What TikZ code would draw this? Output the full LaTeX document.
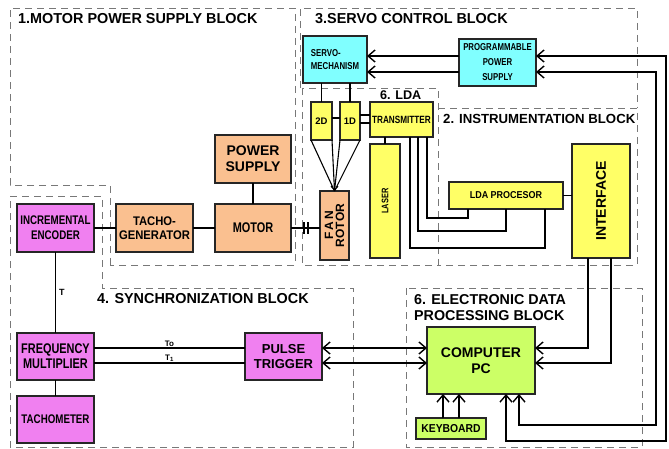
\documentclass[tikz,border=0pt]{standalone}
\usepackage{fontspec}
\setmainfont{Liberation Sans}
\newfontfamily\narrowf[FakeStretch=0.78]{Liberation Sans}
\newfontfamily\semif[FakeStretch=0.9]{Liberation Sans}
\usetikzlibrary{arrows.meta,calc}
\definecolor{cyanbox}{RGB}{128,255,255}
\definecolor{yelbox}{RGB}{255,255,102}
\definecolor{orabox}{RGB}{250,192,144}
\definecolor{pinkbox}{RGB}{240,128,240}
\definecolor{grnbox}{RGB}{204,255,102}
\definecolor{dashgray}{RGB}{120,120,120}
\newcommand\fz[2]{\fontsize{#1}{#2}\selectfont}
\tikzset{
  box/.style={draw=black!85, line width=1.3pt, inner sep=0pt, outer sep=0pt, align=center},
  conn/.style={line width=1.4pt},
  thinconn/.style={line width=1.1pt},
  hb/.tip={Straight Barb[length=7pt,width=12pt]},
  blockline/.style={draw=dashgray, line width=0.8pt, dash pattern=on 7pt off 5pt},
  title/.style={font=\bfseries\fz{14.4}{16}, anchor=west, inner sep=0pt},
  lbl/.style={inner sep=0pt, font=\bfseries\fz{8}{9}}
}
\begin{document}
\begin{tikzpicture}[x=1pt,y=-1pt]
\useasboundingbox (0,0) rectangle (669,449);
% dashed blocks
\draw[blockline] (110,265) -- (110,185) -- (10,185) -- (10,8) -- (295,8) -- (295,265) -- cycle;
\draw[blockline] (300,88) -- (300,8) -- (637,8) -- (637,108);
\draw[blockline] (302,88) rectangle (438,265);
\draw[blockline] (438,108) -- (637,108) -- (637,265) -- (438,265);
\draw[blockline] (10,196) -- (102,196) -- (102,288) -- (353,288) -- (353,447) -- (10,447) -- cycle;
\draw[blockline] (406,288) rectangle (642,447);
% titles
\node[title] (t1) at (18,19) {1.MOTOR POWER SUPPLY BLOCK};
\node[title] (t3) at (315,19) {3.SERVO CONTROL BLOCK};
\node[title, font=\bfseries\fz{12.6}{14}] (t5) at (380,95) {6. LDA};
\node[title, font=\bfseries\fz{13.2}{15}] (t2) at (443,119) {2. INSTRUMENTATION BLOCK};
\node[title] (t4) at (97,299) {4. SYNCHRONIZATION BLOCK};
\node[title, align=left, font=\bfseries\fz{14.3}{16}] (t6) at (414,308) {6. ELECTRONIC DATA\\PROCESSING BLOCK};
% nodes
\node[box, fill=cyanbox, minimum width=64pt, minimum height=47pt, align=left, font=\narrowf\bfseries\fz{10}{13}] (servo) at (335,59.5) {SERVO-\\MECHANISM};
\node[box, fill=cyanbox, minimum width=77pt, minimum height=47pt, font=\narrowf\bfseries\fz{10}{15}] (pps) at (497.5,62.5) {PROGRAMMABLE\\POWER\\SUPPLY};
\node[box, fill=yelbox, minimum width=21pt, minimum height=38pt, font=\bfseries\fz{9.5}{10}] (d2) at (321.5,121) {2D};
\node[box, fill=yelbox, minimum width=20pt, minimum height=38pt, font=\bfseries\fz{9.5}{10}] (d1) at (350,121) {1D};
\node[box, fill=yelbox, minimum width=63pt, minimum height=35pt, font=\narrowf\bfseries\fz{10.5}{12}] (trans) at (401.5,119.5) {TRANSMITTER};
\node[box, fill=orabox, minimum width=29pt, minimum height=69pt] (fan) at (334.5,225.5) {};
\node[rotate=90, inner sep=0pt, align=center, font=\bfseries\fz{12}{11}] (fantext) at (fan.center) {F\,A\,N\\ROTOR};
\node[box, fill=yelbox, minimum width=30pt, minimum height=114pt] (laser) at (385,201) {};
\node[rotate=90, inner sep=0pt, font=\narrowf\bfseries\fz{9.5}{10}] (lasertext) at (laser.center) {LASER};
\node[box, fill=yelbox, minimum width=114pt, minimum height=27pt, font=\semif\bfseries\fz{10}{12}] (ldap) at (506,195.5) {LDA PROCESOR};
\node[box, fill=yelbox, minimum width=58pt, minimum height=114pt] (iface) at (601,201) {};
\node[rotate=90, inner sep=0pt, font=\bfseries\fz{14}{16}] (ifacetext) at (iface.center) {INTERFACE};
\node[box, fill=grnbox, minimum width=108pt, minimum height=67pt, font=\bfseries\fz{14}{16}] (comp) at (481,360.5) {COMPUTER\\PC};
\node[box, fill=grnbox, minimum width=70pt, minimum height=21pt, font=\semif\bfseries\fz{11.5}{12}] (kbd) at (451,428.5) {KEYBOARD};
\node[box, fill=pinkbox, minimum width=77pt, minimum height=47pt, font=\bfseries\fz{13}{15}] (pulse) at (283.5,356.5) {PULSE\\TRIGGER};
\node[box, fill=pinkbox, minimum width=77pt, minimum height=47pt, font=\narrowf\bfseries\fz{14}{15}] (freq) at (55.5,356.5) {FREQUENCY\\MULTIPLIER};
\node[box, fill=pinkbox, minimum width=77pt, minimum height=47pt, font=\narrowf\bfseries\fz{12.5}{15}] (tacho) at (55.5,419.5) {TACHOMETER};
\node[box, fill=pinkbox, minimum width=77pt, minimum height=48pt, font=\narrowf\bfseries\fz{12.5}{15}] (enc) at (55.5,228) {INCREMENTAL\\ENCODER};
\node[box, fill=orabox, minimum width=77pt, minimum height=48pt, font=\semif\bfseries\fz{12.5}{14.5}] (tgen) at (154.5,228) {TACHO-\\GENERATOR};
\node[box, fill=orabox, minimum width=76pt, minimum height=48pt, font=\narrowf\bfseries\fz{14}{16}] (motor) at (253,228) {MOTOR};
\node[box, fill=orabox, minimum width=76pt, minimum height=48pt, font=\bfseries\fz{14}{16}] (psu) at (253,159) {POWER\\SUPPLY};
% helper coordinates
\coordinate (yA) at (0,348);
\coordinate (yB) at (0,363);
\coordinate (yT1) at (0,56);
\coordinate (yT2) at (0,72);
\coordinate (yD) at (0,118);
\coordinate (yE1) at (0,115);
\coordinate (yE2) at (0,123);
\coordinate (xO) at (506,0);
\coordinate (xI) at (519,0);
\coordinate (rOut) at (666,0);
\coordinate (rIn) at (656,0);
\coordinate (yL1) at (0,441);
\coordinate (yL2) at (0,425);
\coordinate (xK1) at (443,0);
\coordinate (xK2) at (459,0);
\coordinate (xF1) at (588,0);
\coordinate (xF2) at (611,0);
\coordinate (xT1) at (427,0);
\coordinate (xT2) at (418,0);
\coordinate (xT3) at (410,0);
\coordinate (yM1) at (0,218);
\coordinate (yM2) at (0,231);
\coordinate (yM3) at (0,248);
\coordinate (xP1) at (468,0);
\coordinate (xP2) at (506,0);
\coordinate (xP3) at (545,0);
\coordinate (cpl1t) at (304,222);
\coordinate (cpl1b) at (304,234);
\coordinate (cpl2t) at (308,222);
\coordinate (cpl2b) at (308,234);
% motor block connectors
\draw[conn] (enc.east) -- (tgen.west);
\draw[conn] (tgen.east) -- (motor.west);
\draw[conn] (psu.south) -- (motor.north);
\draw[conn] (motor.east) -- (fan.west |- motor.east);
\draw[conn] (cpl1t) -- (cpl1b);
\draw[conn] (cpl2t) -- (cpl2b);
% synchronization
\draw[conn] (enc.south) -- node[right=3pt, lbl, font=\bfseries\fz{9}{10}] (tlab) {T} (freq.north);
\draw[conn] (freq.south) -- (tacho.north);
\draw[thinconn] (freq.east |- yA) -- node[above=1pt, lbl] (tolab) {To} (pulse.west |- yA);
\draw[thinconn] (freq.east |- yB) -- node[above=1pt, lbl] (t1lab) {T\textsubscript{1}} (pulse.west |- yB);
\draw[conn, hb-hb] (pulse.east |- yA) -- (comp.west |- yA);
\draw[conn, hb-hb] (pulse.east |- yB) -- (comp.west |- yB);
% interface to computer
\draw[conn, -hb] (iface.south -| xF1) -- (xF1 |- yA) -- (comp.east |- yA);
\draw[conn, -hb] (iface.south -| xF2) -- (xF2 |- yB) -- (comp.east |- yB);
% keyboard
\draw[conn, -hb] (kbd.north -| xK1) -- (comp.south -| xK1);
\draw[conn, -hb] (kbd.north -| xK2) -- (comp.south -| xK2);
% loops to programmable power supply
\draw[conn, hb-hb] (comp.south -| xO) -- (xO |- yL1) -- (rOut |- yL1) -- (rOut |- yT1) -- (pps.east |- yT1);
\draw[conn, hb-hb] (comp.south -| xI) -- (xI |- yL2) -- (rIn |- yL2) -- (rIn |- yT2) -- (pps.east |- yT2);
% pps to servo
\draw[conn, -hb] (pps.west |- yT1) -- (servo.east |- yT1);
\draw[conn, -hb] (pps.west |- yT2) -- (servo.east |- yT2);
% servo to 2D, 1D
\draw[conn] (servo.south -| d2) -- (d2.north);
\draw[conn] (servo.south -| d1) -- (d1.north);
\draw[conn] (d2.east |- yD) -- (d1.west |- yD);
\draw[conn] (d1.east |- yE1) -- (trans.west |- yE1);
\draw[conn] (d1.east |- yE2) -- (trans.west |- yE2);
% probes to fan
\draw[thinconn] (d2.south west) -- (fan.north);
\draw[thinconn] (d2.south east) -- (fan.north);
\draw[thinconn] (d1.south west) -- (fan.north);
\draw[thinconn] (d1.south east) -- (fan.north);
\draw[thinconn, -{Straight Barb[length=4pt,width=7pt]}] ($(fan.north)+(0,-8)$) -- (fan.north);
% transmitter
\draw[conn] (trans.south -| laser) -- (laser.north);
\draw[thinconn] (trans.south -| xT1) -- (xT1 |- yM1) -- (xP1 |- yM1) -- (ldap.south -| xP1);
\draw[thinconn] (trans.south -| xT2) -- (xT2 |- yM2) -- (xP2 |- yM2) -- (ldap.south -| xP2);
\draw[thinconn] (trans.south -| xT3) -- (xT3 |- yM3) -- (xP3 |- yM3) -- (ldap.south -| xP3);
\draw[conn] (ldap.east) -- (iface.west |- ldap.east);
\end{tikzpicture}
\end{document}
